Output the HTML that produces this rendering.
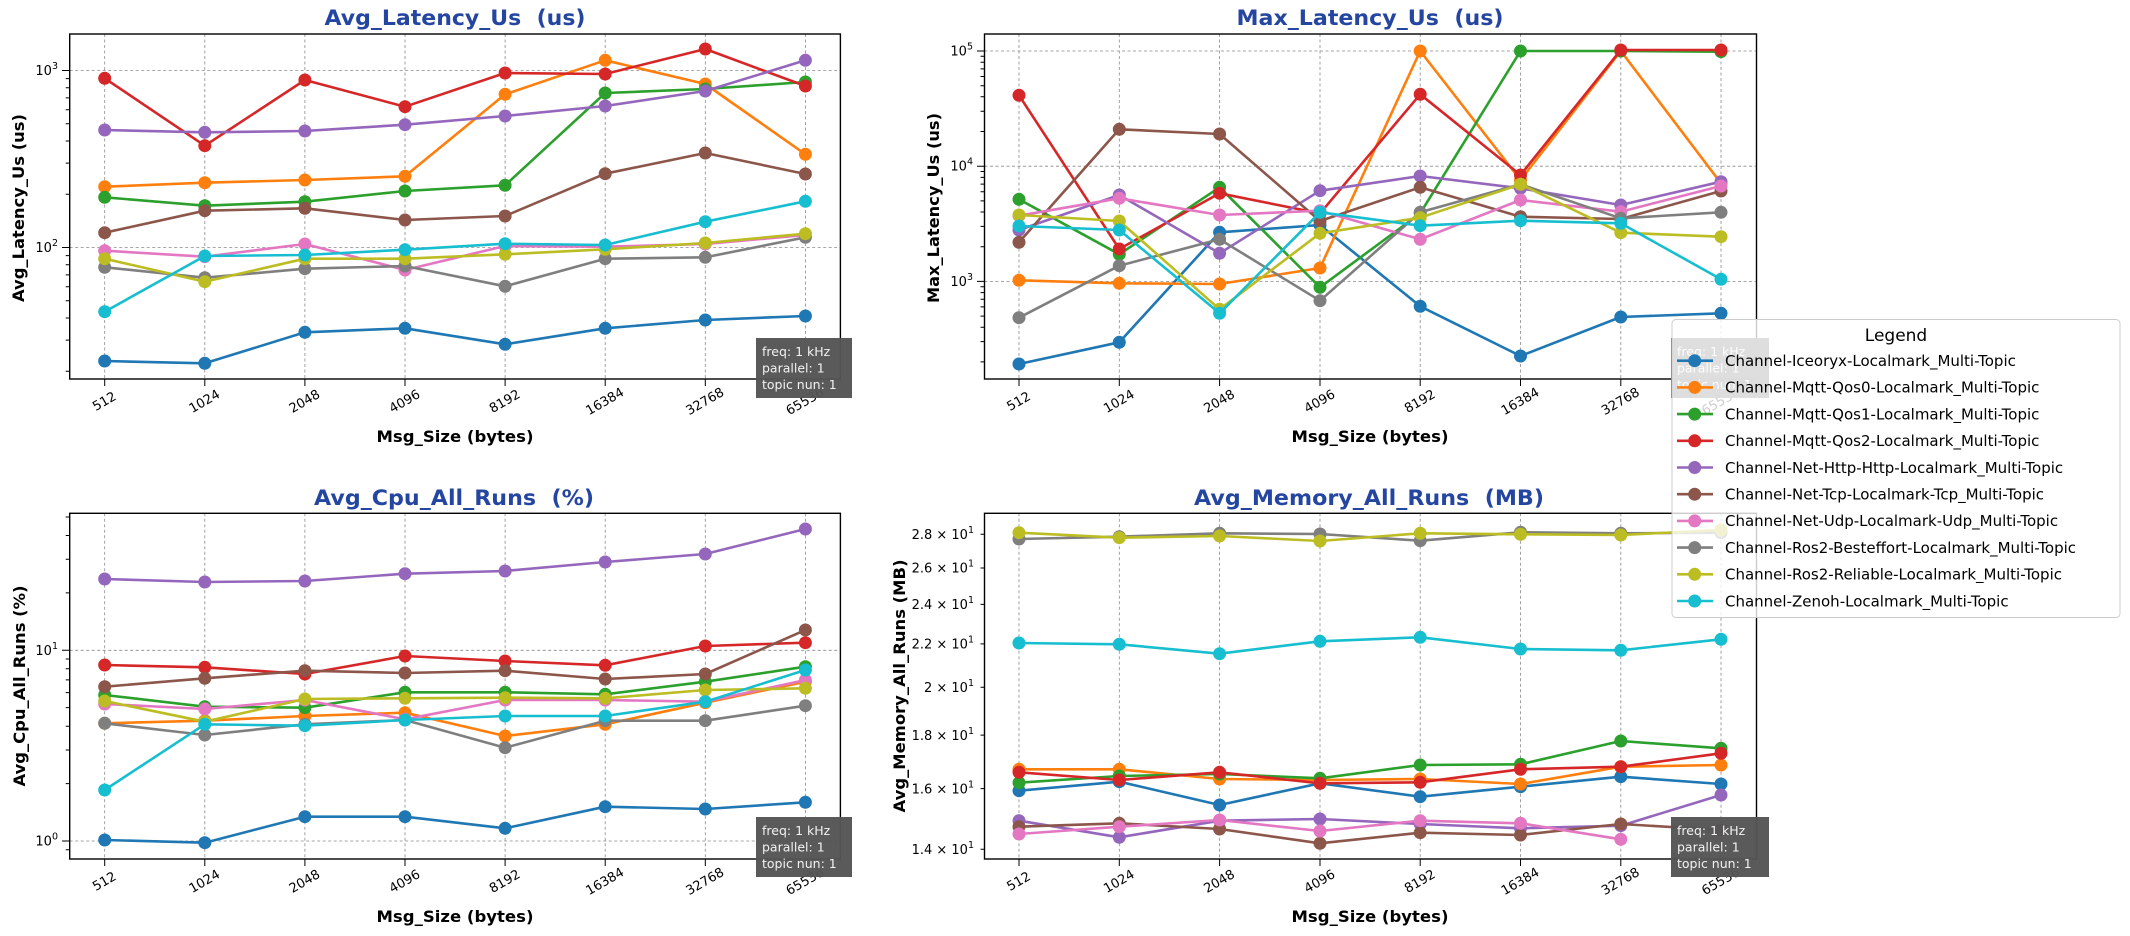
<!DOCTYPE html>
<html><head><meta charset="utf-8"><style>
html,body{margin:0;padding:0;background:#fff}
svg{display:block;font-family:"DejaVu Sans","Liberation Sans",sans-serif}
.t{font-size:21px;font-weight:bold;fill:#2546a0;text-anchor:middle;white-space:pre}
.xl{font-size:16px;font-weight:bold;text-anchor:middle}
.yl{font-size:16px;font-weight:bold;text-anchor:middle}
.tk{font-size:13px}
.g{stroke:#8a8a8a;stroke-width:0.8;stroke-dasharray:3,2.5}
.fr{fill:none;stroke:#000;stroke-width:1.4}
.s{fill:none;stroke-width:2.6;stroke-linejoin:round}
.an{font-size:12.5px;fill:#f2f2f2}
.lg{font-size:15px}
</style></head><body>
<svg width="2130" height="936" viewBox="0 0 2130 936" xmlns="http://www.w3.org/2000/svg">
<defs>
<marker id="m0" markerUnits="userSpaceOnUse" markerWidth="14" markerHeight="14" refX="7" refY="7"><circle cx="7" cy="7" r="6.5" fill="#1f77b4"/></marker>
<marker id="m1" markerUnits="userSpaceOnUse" markerWidth="14" markerHeight="14" refX="7" refY="7"><circle cx="7" cy="7" r="6.5" fill="#ff7f0e"/></marker>
<marker id="m2" markerUnits="userSpaceOnUse" markerWidth="14" markerHeight="14" refX="7" refY="7"><circle cx="7" cy="7" r="6.5" fill="#2ca02c"/></marker>
<marker id="m3" markerUnits="userSpaceOnUse" markerWidth="14" markerHeight="14" refX="7" refY="7"><circle cx="7" cy="7" r="6.5" fill="#d62728"/></marker>
<marker id="m4" markerUnits="userSpaceOnUse" markerWidth="14" markerHeight="14" refX="7" refY="7"><circle cx="7" cy="7" r="6.5" fill="#9467bd"/></marker>
<marker id="m5" markerUnits="userSpaceOnUse" markerWidth="14" markerHeight="14" refX="7" refY="7"><circle cx="7" cy="7" r="6.5" fill="#8c564b"/></marker>
<marker id="m6" markerUnits="userSpaceOnUse" markerWidth="14" markerHeight="14" refX="7" refY="7"><circle cx="7" cy="7" r="6.5" fill="#e377c2"/></marker>
<marker id="m7" markerUnits="userSpaceOnUse" markerWidth="14" markerHeight="14" refX="7" refY="7"><circle cx="7" cy="7" r="6.5" fill="#7f7f7f"/></marker>
<marker id="m8" markerUnits="userSpaceOnUse" markerWidth="14" markerHeight="14" refX="7" refY="7"><circle cx="7" cy="7" r="6.5" fill="#bcbd22"/></marker>
<marker id="m9" markerUnits="userSpaceOnUse" markerWidth="14" markerHeight="14" refX="7" refY="7"><circle cx="7" cy="7" r="6.5" fill="#17becf"/></marker>
</defs>

<!-- ============ TOP LEFT ============ -->
<text class="t" x="455" y="25" textLength="261" lengthAdjust="spacingAndGlyphs">Avg_Latency_Us  (us)</text>
<g class="g">
<line x1="104.7" y1="34" x2="104.7" y2="379"/><line x1="204.8" y1="34" x2="204.8" y2="379"/><line x1="304.9" y1="34" x2="304.9" y2="379"/><line x1="405" y1="34" x2="405" y2="379"/><line x1="505.1" y1="34" x2="505.1" y2="379"/><line x1="605.2" y1="34" x2="605.2" y2="379"/><line x1="705.3" y1="34" x2="705.3" y2="379"/><line x1="805.4" y1="34" x2="805.4" y2="379"/>
<line x1="69.7" y1="70.5" x2="840.4" y2="70.5"/><line x1="69.7" y1="247.5" x2="840.4" y2="247.5"/>
</g>
<g stroke="#000" stroke-width="1">
<line x1="62" y1="70.5" x2="69.7" y2="70.5"/><line x1="62" y1="247.5" x2="69.7" y2="247.5"/>
<path d="M65.7 371.2H69.7M65.7 340.1H69.7M65.7 318H69.7M65.7 300.8H69.7M65.7 286.8H69.7M65.7 274.9H69.7M65.7 264.7H69.7M65.7 255.6H69.7M65.7 194.2H69.7M65.7 163.1H69.7M65.7 141H69.7M65.7 123.8H69.7M65.7 109.8H69.7M65.7 97.9H69.7M65.7 87.7H69.7M65.7 78.6H69.7"/>
<path d="M104.7 379v7M204.8 379v7M304.9 379v7M405 379v7M505.1 379v7M605.2 379v7M705.3 379v7M805.4 379v7"/>
</g>
<text class="tk" x="58" y="75" text-anchor="end">10<tspan font-size="9.5" dy="-6">3</tspan></text>
<text class="tk" x="58" y="252" text-anchor="end">10<tspan font-size="9.5" dy="-6">2</tspan></text>
<g class="s">
<polyline stroke="#1f77b4" marker-start="url(#m0)" marker-mid="url(#m0)" marker-end="url(#m0)" points="104.7,361 204.8,363.3 304.9,332.3 405,328.3 505.1,344.3 605.2,328.3 705.3,320 805.4,316"/>
<polyline stroke="#ff7f0e" marker-start="url(#m1)" marker-mid="url(#m1)" marker-end="url(#m1)" points="104.7,186.7 204.8,182.7 304.9,180 405,176.3 505.1,94.3 605.2,60.3 705.3,84 805.4,154.3"/>
<polyline stroke="#2ca02c" marker-start="url(#m2)" marker-mid="url(#m2)" marker-end="url(#m2)" points="104.7,197.3 204.8,205.7 304.9,201.7 405,191 505.1,185.3 605.2,93 705.3,89 805.4,82"/>
<polyline stroke="#d62728" marker-start="url(#m3)" marker-mid="url(#m3)" marker-end="url(#m3)" points="104.7,78.3 204.8,145.7 304.9,80 405,106.7 505.1,73 605.2,74 705.3,49 805.4,86"/>
<polyline stroke="#9467bd" marker-start="url(#m4)" marker-mid="url(#m4)" marker-end="url(#m4)" points="104.7,130 204.8,132.3 304.9,131 405,124.7 505.1,116 605.2,106 705.3,91 805.4,60.3"/>
<polyline stroke="#8c564b" marker-start="url(#m5)" marker-mid="url(#m5)" marker-end="url(#m5)" points="104.7,232.7 204.8,210.7 304.9,208.3 405,220 505.1,216 605.2,173.7 705.3,153 805.4,174"/>
<polyline stroke="#e377c2" marker-start="url(#m6)" marker-mid="url(#m6)" marker-end="url(#m6)" points="104.7,250.7 204.8,256.7 304.9,244 405,270 505.1,246 605.2,246.7 705.3,244 805.4,235"/>
<polyline stroke="#7f7f7f" marker-start="url(#m7)" marker-mid="url(#m7)" marker-end="url(#m7)" points="104.7,267.3 204.8,277.7 304.9,268.7 405,266 505.1,286.3 605.2,258.7 705.3,257.3 805.4,237.3"/>
<polyline stroke="#bcbd22" marker-start="url(#m8)" marker-mid="url(#m8)" marker-end="url(#m8)" points="104.7,258.7 204.8,281.7 304.9,258.7 405,258.7 505.1,254.3 605.2,249.3 705.3,243 805.4,233.7"/>
<polyline stroke="#17becf" marker-start="url(#m9)" marker-mid="url(#m9)" marker-end="url(#m9)" points="104.7,311.7 204.8,256 304.9,255 405,249.7 505.1,243.7 605.2,245 705.3,221.7 805.4,201.3"/>
</g>
<rect class="fr" x="69.7" y="34" width="770.7" height="345"/>
<g class="tk" text-anchor="middle" dominant-baseline="central">
<text transform="translate(104.7,402) rotate(-30)">512</text><text transform="translate(204.8,402) rotate(-30)">1024</text><text transform="translate(304.9,402) rotate(-30)">2048</text><text transform="translate(405,402) rotate(-30)">4096</text><text transform="translate(505.1,402) rotate(-30)">8192</text><text transform="translate(605.2,402) rotate(-30)">16384</text><text transform="translate(705.3,402) rotate(-30)">32768</text><text transform="translate(805.4,402) rotate(-30)">65536</text>
</g>
<text class="xl" x="455" y="442" textLength="157" lengthAdjust="spacingAndGlyphs">Msg_Size (bytes)</text>
<text class="yl" transform="translate(24,208) rotate(-90)" textLength="188" lengthAdjust="spacingAndGlyphs">Avg_Latency_Us (us)</text>
<rect x="756" y="338" width="96" height="60" fill="#555" opacity="0.97"/>
<text class="an" x="762" y="356">freq: 1 kHz</text><text class="an" x="762" y="372.5">parallel: 1</text><text class="an" x="762" y="389">topic nun: 1</text>

<!-- ============ TOP RIGHT ============ -->
<text class="t" x="1370" y="25" textLength="267" lengthAdjust="spacingAndGlyphs">Max_Latency_Us  (us)</text>
<g class="g">
<line x1="1019" y1="34" x2="1019" y2="379"/><line x1="1119.3" y1="34" x2="1119.3" y2="379"/><line x1="1219.6" y1="34" x2="1219.6" y2="379"/><line x1="1320" y1="34" x2="1320" y2="379"/><line x1="1420.2" y1="34" x2="1420.2" y2="379"/><line x1="1520.5" y1="34" x2="1520.5" y2="379"/><line x1="1620.8" y1="34" x2="1620.8" y2="379"/><line x1="1721" y1="34" x2="1721" y2="379"/>
<line x1="984.5" y1="51" x2="1756.5" y2="51"/><line x1="984.5" y1="166.2" x2="1756.5" y2="166.2"/><line x1="984.5" y1="281.4" x2="1756.5" y2="281.4"/>
</g>
<g stroke="#000" stroke-width="1">
<path d="M977 51H984.5M977 166.2H984.5M977 281.4H984.5"/>
<path d="M980.5 361.9H984.5M980.5 341.6H984.5M980.5 327.2H984.5M980.5 316.1H984.5M980.5 306.9H984.5M980.5 299.3H984.5M980.5 292.6H984.5M980.5 286.7H984.5M980.5 246.7H984.5M980.5 226.4H984.5M980.5 212H984.5M980.5 200.9H984.5M980.5 191.7H984.5M980.5 184.1H984.5M980.5 177.4H984.5M980.5 171.5H984.5M980.5 131.5H984.5M980.5 111.2H984.5M980.5 96.8H984.5M980.5 85.7H984.5M980.5 76.5H984.5M980.5 68.9H984.5M980.5 62.2H984.5M980.5 56.3H984.5"/>
<path d="M1019 379v7M1119.3 379v7M1219.6 379v7M1320 379v7M1420.2 379v7M1520.5 379v7M1620.8 379v7M1721 379v7"/>
</g>
<text class="tk" x="973" y="55.5" text-anchor="end">10<tspan font-size="9.5" dy="-6">5</tspan></text>
<text class="tk" x="973" y="170.7" text-anchor="end">10<tspan font-size="9.5" dy="-6">4</tspan></text>
<text class="tk" x="973" y="285.9" text-anchor="end">10<tspan font-size="9.5" dy="-6">3</tspan></text>
<g class="s">
<polyline stroke="#1f77b4" marker-start="url(#m0)" marker-mid="url(#m0)" marker-end="url(#m0)" points="1019,364 1119.3,342.3 1219.6,232.3 1320,225 1420.2,306.3 1520.5,356 1620.8,317 1721,313.3"/>
<polyline stroke="#ff7f0e" marker-start="url(#m1)" marker-mid="url(#m1)" marker-end="url(#m1)" points="1019,280.3 1119.3,283.3 1219.6,284 1320,268 1420.2,51 1520.5,180 1620.8,51 1721,183.3"/>
<polyline stroke="#2ca02c" marker-start="url(#m2)" marker-mid="url(#m2)" marker-end="url(#m2)" points="1019,199.3 1119.3,254.3 1219.6,187.3 1320,287.3 1420.2,213.3 1520.5,51 1620.8,51 1721,51.7"/>
<polyline stroke="#d62728" marker-start="url(#m3)" marker-mid="url(#m3)" marker-end="url(#m3)" points="1019,95.3 1119.3,249 1219.6,193.3 1320,213.4 1420.2,94.3 1520.5,175 1620.8,50 1721,50"/>
<polyline stroke="#9467bd" marker-start="url(#m4)" marker-mid="url(#m4)" marker-end="url(#m4)" points="1019,230 1119.3,195 1219.6,253.3 1320,190.7 1420.2,176 1520.5,188.3 1620.8,205 1721,181.7"/>
<polyline stroke="#8c564b" marker-start="url(#m5)" marker-mid="url(#m5)" marker-end="url(#m5)" points="1019,242.3 1119.3,129.3 1219.6,134 1320,221 1420.2,187.3 1520.5,216.7 1620.8,219 1721,191"/>
<polyline stroke="#e377c2" marker-start="url(#m6)" marker-mid="url(#m6)" marker-end="url(#m6)" points="1019,215.7 1119.3,198.3 1219.6,215 1320,210.7 1420.2,239.3 1520.5,200 1620.8,211.7 1721,186"/>
<polyline stroke="#7f7f7f" marker-start="url(#m7)" marker-mid="url(#m7)" marker-end="url(#m7)" points="1019,317.7 1119.3,265.7 1219.6,239.3 1320,300.7 1420.2,212.3 1520.5,184.3 1620.8,218.3 1721,212.3"/>
<polyline stroke="#bcbd22" marker-start="url(#m8)" marker-mid="url(#m8)" marker-end="url(#m8)" points="1019,215 1119.3,221 1219.6,309.3 1320,233.3 1420.2,217.7 1520.5,184.3 1620.8,232.7 1721,236.7"/>
<polyline stroke="#17becf" marker-start="url(#m9)" marker-mid="url(#m9)" marker-end="url(#m9)" points="1019,226 1119.3,230 1219.6,313.3 1320,212.3 1420.2,225.7 1520.5,220.7 1620.8,223.3 1721,279.3"/>
</g>
<rect class="fr" x="984.5" y="34" width="772" height="345"/>
<g class="tk" text-anchor="middle" dominant-baseline="central">
<text transform="translate(1019,402) rotate(-30)">512</text><text transform="translate(1119.3,402) rotate(-30)">1024</text><text transform="translate(1219.6,402) rotate(-30)">2048</text><text transform="translate(1320,402) rotate(-30)">4096</text><text transform="translate(1420.2,402) rotate(-30)">8192</text><text transform="translate(1520.5,402) rotate(-30)">16384</text><text transform="translate(1620.8,402) rotate(-30)">32768</text><text transform="translate(1721,402) rotate(-30)">65536</text>
</g>
<text class="xl" x="1370" y="442" textLength="157" lengthAdjust="spacingAndGlyphs">Msg_Size (bytes)</text>
<text class="yl" transform="translate(939,208) rotate(-90)" textLength="190" lengthAdjust="spacingAndGlyphs">Max_Latency_Us (us)</text>
<rect x="1671" y="338" width="98" height="60" fill="#555" opacity="0.97"/>
<text class="an" x="1677" y="356">freq: 1 kHz</text><text class="an" x="1677" y="372.5">parallel: 1</text><text class="an" x="1677" y="389">topic nun: 1</text>

<!-- ============ BOTTOM LEFT ============ -->
<text class="t" x="454" y="505" textLength="280" lengthAdjust="spacingAndGlyphs">Avg_Cpu_All_Runs  (%)</text>
<g class="g">
<line x1="104.7" y1="513.3" x2="104.7" y2="859"/><line x1="204.8" y1="513.3" x2="204.8" y2="859"/><line x1="304.9" y1="513.3" x2="304.9" y2="859"/><line x1="405" y1="513.3" x2="405" y2="859"/><line x1="505.1" y1="513.3" x2="505.1" y2="859"/><line x1="605.2" y1="513.3" x2="605.2" y2="859"/><line x1="705.3" y1="513.3" x2="705.3" y2="859"/><line x1="805.4" y1="513.3" x2="805.4" y2="859"/>
<line x1="69.7" y1="650.3" x2="840.4" y2="650.3"/><line x1="69.7" y1="841" x2="840.4" y2="841"/>
</g>
<g stroke="#000" stroke-width="1">
<path d="M62 650.3H69.7M62 841H69.7"/>
<path d="M65.7 849.7H69.7M65.7 783.6H69.7M65.7 750H69.7M65.7 726.2H69.7M65.7 707.6H69.7M65.7 692.6H69.7M65.7 679.9H69.7M65.7 668.8H69.7M65.7 659H69.7M65.7 592.9H69.7M65.7 559.3H69.7M65.7 535.5H69.7M65.7 517H69.7"/>
<path d="M104.7 859v7M204.8 859v7M304.9 859v7M405 859v7M505.1 859v7M605.2 859v7M705.3 859v7M805.4 859v7"/>
</g>
<text class="tk" x="58" y="654.8" text-anchor="end">10<tspan font-size="9.5" dy="-6">1</tspan></text>
<text class="tk" x="58" y="845.5" text-anchor="end">10<tspan font-size="9.5" dy="-6">0</tspan></text>
<g class="s">
<polyline stroke="#1f77b4" marker-start="url(#m0)" marker-mid="url(#m0)" marker-end="url(#m0)" points="104.7,840 204.8,842.7 304.9,816.7 405,816.7 505.1,828.3 605.2,806.7 705.3,809 805.4,802.3"/>
<polyline stroke="#ff7f0e" marker-start="url(#m1)" marker-mid="url(#m1)" marker-end="url(#m1)" points="104.7,723.3 204.8,720.7 304.9,716 405,712.7 505.1,736 605.2,724.3 705.3,702.7 805.4,681.7"/>
<polyline stroke="#2ca02c" marker-start="url(#m2)" marker-mid="url(#m2)" marker-end="url(#m2)" points="104.7,695 204.8,706.7 304.9,707.7 405,692.3 505.1,692.3 605.2,694.3 705.3,681.7 805.4,666.7"/>
<polyline stroke="#d62728" marker-start="url(#m3)" marker-mid="url(#m3)" marker-end="url(#m3)" points="104.7,665 204.8,667.3 304.9,674 405,656 505.1,661 605.2,665.3 705.3,646 805.4,642.7"/>
<polyline stroke="#9467bd" marker-start="url(#m4)" marker-mid="url(#m4)" marker-end="url(#m4)" points="104.7,579 204.8,582 304.9,581 405,573.7 505.1,571 605.2,562 705.3,554 805.4,529"/>
<polyline stroke="#8c564b" marker-start="url(#m5)" marker-mid="url(#m5)" marker-end="url(#m5)" points="104.7,686.7 204.8,678.3 304.9,670.7 405,673 505.1,670.7 605.2,679 705.3,674 805.4,630"/>
<polyline stroke="#e377c2" marker-start="url(#m6)" marker-mid="url(#m6)" marker-end="url(#m6)" points="104.7,704 204.8,709 304.9,700 405,719.3 505.1,700 605.2,700 705.3,701.7 805.4,680"/>
<polyline stroke="#7f7f7f" marker-start="url(#m7)" marker-mid="url(#m7)" marker-end="url(#m7)" points="104.7,723.3 204.8,735 304.9,724.3 405,720 505.1,747.7 605.2,720.7 705.3,720.7 805.4,705.7"/>
<polyline stroke="#bcbd22" marker-start="url(#m8)" marker-mid="url(#m8)" marker-end="url(#m8)" points="104.7,701 204.8,721.7 304.9,699 405,698.3 505.1,697.7 605.2,698.3 705.3,690 805.4,688.3"/>
<polyline stroke="#17becf" marker-start="url(#m9)" marker-mid="url(#m9)" marker-end="url(#m9)" points="104.7,790 204.8,724.3 304.9,725.7 405,720 505.1,716 605.2,716 705.3,701.7 805.4,670"/>
</g>
<rect class="fr" x="69.7" y="513.3" width="770.7" height="345.7"/>
<g class="tk" text-anchor="middle" dominant-baseline="central">
<text transform="translate(104.7,882) rotate(-30)">512</text><text transform="translate(204.8,882) rotate(-30)">1024</text><text transform="translate(304.9,882) rotate(-30)">2048</text><text transform="translate(405,882) rotate(-30)">4096</text><text transform="translate(505.1,882) rotate(-30)">8192</text><text transform="translate(605.2,882) rotate(-30)">16384</text><text transform="translate(705.3,882) rotate(-30)">32768</text><text transform="translate(805.4,882) rotate(-30)">65536</text>
</g>
<text class="xl" x="455" y="922" textLength="157" lengthAdjust="spacingAndGlyphs">Msg_Size (bytes)</text>
<text class="yl" transform="translate(25,686) rotate(-90)" textLength="201" lengthAdjust="spacingAndGlyphs">Avg_Cpu_All_Runs (%)</text>
<rect x="756" y="817" width="96" height="60" fill="#555" opacity="0.97"/>
<text class="an" x="762" y="835">freq: 1 kHz</text><text class="an" x="762" y="851.5">parallel: 1</text><text class="an" x="762" y="868">topic nun: 1</text>

<!-- ============ BOTTOM RIGHT ============ -->
<text class="t" x="1369" y="505" textLength="350" lengthAdjust="spacingAndGlyphs">Avg_Memory_All_Runs  (MB)</text>
<g class="g">
<line x1="1019" y1="513.3" x2="1019" y2="859"/><line x1="1119.3" y1="513.3" x2="1119.3" y2="859"/><line x1="1219.6" y1="513.3" x2="1219.6" y2="859"/><line x1="1320" y1="513.3" x2="1320" y2="859"/><line x1="1420.2" y1="513.3" x2="1420.2" y2="859"/><line x1="1520.5" y1="513.3" x2="1520.5" y2="859"/><line x1="1620.8" y1="513.3" x2="1620.8" y2="859"/><line x1="1721" y1="513.3" x2="1721" y2="859"/>
</g>
<g stroke="#000" stroke-width="1">
<path d="M980.5 534.3H984.5M980.5 568H984.5M980.5 604.4H984.5M980.5 643.9H984.5M980.5 687.2H984.5M980.5 735.1H984.5M980.5 788.6H984.5M980.5 849.3H984.5"/>
<path d="M1019 859v7M1119.3 859v7M1219.6 859v7M1320 859v7M1420.2 859v7M1520.5 859v7M1620.8 859v7M1721 859v7"/>
</g>
<g class="tk" text-anchor="end">
<text x="974" y="539">2.8 × 10<tspan font-size="9.5" dy="-6">1</tspan></text>
<text x="974" y="572.7">2.6 × 10<tspan font-size="9.5" dy="-6">1</tspan></text>
<text x="974" y="609.1">2.4 × 10<tspan font-size="9.5" dy="-6">1</tspan></text>
<text x="974" y="648.6">2.2 × 10<tspan font-size="9.5" dy="-6">1</tspan></text>
<text x="974" y="691.9">2 × 10<tspan font-size="9.5" dy="-6">1</tspan></text>
<text x="974" y="739.8">1.8 × 10<tspan font-size="9.5" dy="-6">1</tspan></text>
<text x="974" y="793.3">1.6 × 10<tspan font-size="9.5" dy="-6">1</tspan></text>
<text x="974" y="854">1.4 × 10<tspan font-size="9.5" dy="-6">1</tspan></text>
</g>
<g class="s">
<polyline stroke="#1f77b4" marker-start="url(#m0)" marker-mid="url(#m0)" marker-end="url(#m0)" points="1019,790.7 1119.3,781.7 1219.6,805 1320,783.3 1420.2,796.7 1520.5,786.7 1620.8,776.7 1721,784"/>
<polyline stroke="#ff7f0e" marker-start="url(#m1)" marker-mid="url(#m1)" marker-end="url(#m1)" points="1019,769.3 1119.3,769.3 1219.6,779 1320,780 1420.2,779 1520.5,784 1620.8,766.7 1721,765"/>
<polyline stroke="#2ca02c" marker-start="url(#m2)" marker-mid="url(#m2)" marker-end="url(#m2)" points="1019,782.7 1119.3,776 1219.6,774 1320,778.3 1420.2,765 1520.5,764.3 1620.8,741 1721,748.3"/>
<polyline stroke="#d62728" marker-start="url(#m3)" marker-mid="url(#m3)" marker-end="url(#m3)" points="1019,772.3 1119.3,780 1219.6,772.3 1320,783.3 1420.2,782.3 1520.5,769.3 1620.8,766.7 1721,753.3"/>
<polyline stroke="#9467bd" marker-start="url(#m4)" marker-mid="url(#m4)" marker-end="url(#m4)" points="1019,820.7 1119.3,837.3 1219.6,820.7 1320,819 1420.2,824 1520.5,828.3 1620.8,825.7 1721,795"/>
<polyline stroke="#8c564b" marker-start="url(#m5)" marker-mid="url(#m5)" marker-end="url(#m5)" points="1019,826.7 1119.3,823.3 1219.6,829 1320,843.3 1420.2,832.7 1520.5,835 1620.8,824 1721,830"/>
<polyline stroke="#e377c2" marker-start="url(#m6)" marker-mid="url(#m6)" marker-end="url(#m6)" points="1019,834 1119.3,826.7 1219.6,820 1320,831 1420.2,820.7 1520.5,823.3 1620.8,839.3"/>
<polyline stroke="#7f7f7f" marker-start="url(#m7)" marker-mid="url(#m7)" marker-end="url(#m7)" points="1019,539 1119.3,536.7 1219.6,533.3 1320,534 1420.2,540.7 1520.5,532.3 1620.8,533.3 1721,532.7"/>
<polyline stroke="#bcbd22" marker-start="url(#m8)" marker-mid="url(#m8)" marker-end="url(#m8)" points="1019,532.7 1119.3,537.7 1219.6,536 1320,541 1420.2,533.3 1520.5,534.3 1620.8,535 1721,530"/>
<polyline stroke="#17becf" marker-start="url(#m9)" marker-mid="url(#m9)" marker-end="url(#m9)" points="1019,643 1119.3,644.3 1219.6,653.7 1320,641.3 1420.2,637.3 1520.5,649 1620.8,650.3 1721,639.3"/>
</g>
<rect class="fr" x="984.5" y="513.3" width="772" height="345.7"/>
<g class="tk" text-anchor="middle" dominant-baseline="central">
<text transform="translate(1019,882) rotate(-30)">512</text><text transform="translate(1119.3,882) rotate(-30)">1024</text><text transform="translate(1219.6,882) rotate(-30)">2048</text><text transform="translate(1320,882) rotate(-30)">4096</text><text transform="translate(1420.2,882) rotate(-30)">8192</text><text transform="translate(1520.5,882) rotate(-30)">16384</text><text transform="translate(1620.8,882) rotate(-30)">32768</text><text transform="translate(1721,882) rotate(-30)">65536</text>
</g>
<text class="xl" x="1370" y="922" textLength="157" lengthAdjust="spacingAndGlyphs">Msg_Size (bytes)</text>
<text class="yl" transform="translate(905,686) rotate(-90)" textLength="253" lengthAdjust="spacingAndGlyphs">Avg_Memory_All_Runs (MB)</text>
<rect x="1671" y="817" width="98" height="60" fill="#555" opacity="0.97"/>
<text class="an" x="1677" y="835">freq: 1 kHz</text><text class="an" x="1677" y="851.5">parallel: 1</text><text class="an" x="1677" y="868">topic nun: 1</text>

<!-- ============ LEGEND ============ -->
<rect x="1672" y="319.5" width="448" height="298" rx="4" fill="#fff" fill-opacity="0.8" stroke="#cccccc" stroke-width="1"/>
<text x="1896" y="341" text-anchor="middle" font-size="17">Legend</text>
<g stroke-width="2.6">
<line x1="1677" y1="360.7" x2="1713" y2="360.7" stroke="#1f77b4"/><circle cx="1694.7" cy="360.7" r="6.5" fill="#1f77b4"/>
<line x1="1677" y1="387.4" x2="1713" y2="387.4" stroke="#ff7f0e"/><circle cx="1694.7" cy="387.4" r="6.5" fill="#ff7f0e"/>
<line x1="1677" y1="414.1" x2="1713" y2="414.1" stroke="#2ca02c"/><circle cx="1694.7" cy="414.1" r="6.5" fill="#2ca02c"/>
<line x1="1677" y1="440.8" x2="1713" y2="440.8" stroke="#d62728"/><circle cx="1694.7" cy="440.8" r="6.5" fill="#d62728"/>
<line x1="1677" y1="467.5" x2="1713" y2="467.5" stroke="#9467bd"/><circle cx="1694.7" cy="467.5" r="6.5" fill="#9467bd"/>
<line x1="1677" y1="494.2" x2="1713" y2="494.2" stroke="#8c564b"/><circle cx="1694.7" cy="494.2" r="6.5" fill="#8c564b"/>
<line x1="1677" y1="520.9" x2="1713" y2="520.9" stroke="#e377c2"/><circle cx="1694.7" cy="520.9" r="6.5" fill="#e377c2"/>
<line x1="1677" y1="547.6" x2="1713" y2="547.6" stroke="#7f7f7f"/><circle cx="1694.7" cy="547.6" r="6.5" fill="#7f7f7f"/>
<line x1="1677" y1="574.3" x2="1713" y2="574.3" stroke="#bcbd22"/><circle cx="1694.7" cy="574.3" r="6.5" fill="#bcbd22"/>
<line x1="1677" y1="601" x2="1713" y2="601" stroke="#17becf"/><circle cx="1694.7" cy="601" r="6.5" fill="#17becf"/>
</g>
<g class="lg">
<text x="1725" y="366">Channel-Iceoryx-Localmark_Multi-Topic</text>
<text x="1725" y="392.7">Channel-Mqtt-Qos0-Localmark_Multi-Topic</text>
<text x="1725" y="419.4">Channel-Mqtt-Qos1-Localmark_Multi-Topic</text>
<text x="1725" y="446.1">Channel-Mqtt-Qos2-Localmark_Multi-Topic</text>
<text x="1725" y="472.8">Channel-Net-Http-Http-Localmark_Multi-Topic</text>
<text x="1725" y="499.5">Channel-Net-Tcp-Localmark-Tcp_Multi-Topic</text>
<text x="1725" y="526.2">Channel-Net-Udp-Localmark-Udp_Multi-Topic</text>
<text x="1725" y="552.9">Channel-Ros2-Besteffort-Localmark_Multi-Topic</text>
<text x="1725" y="579.6">Channel-Ros2-Reliable-Localmark_Multi-Topic</text>
<text x="1725" y="606.3">Channel-Zenoh-Localmark_Multi-Topic</text>
</g>
</svg>
</body></html>
